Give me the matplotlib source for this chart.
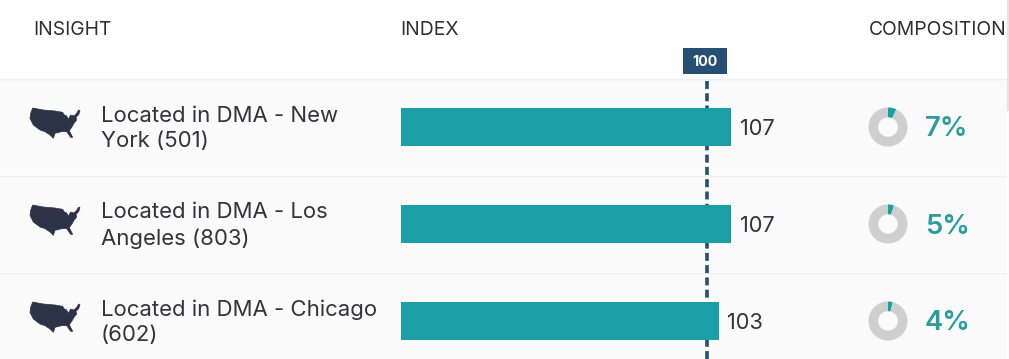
import matplotlib
matplotlib.use("Agg")
import matplotlib.pyplot as plt
from matplotlib.patches import Polygon, Rectangle

W, H = 1009, 359
headers = ["INSIGHT", "INDEX", "COMPOSITION"]
insights = ["Located in DMA - New\nYork (501)", "Located in DMA - Los\nAngeles (803)", "Located in DMA - Chicago\n(602)"]
index_values = [107, 107, 103]
composition = [7, 5, 4]
reference = 100

FONT = "Inter"
TEAL = "#1a9fa6"
NAVY = "#264f73"
DARK = "#333338"
MAP = "#2c3347"
usa = [(98,84),(130,90),(165,93),(188,97),(192,104),(200,108),(205,118),(212,105),(222,108),
       (230,100),(236,90),(240,92),(236,104),(228,112),(230,120),(222,130),(215,142),(208,152),
       (218,172),(212,172),(200,155),(185,155),(165,160),(160,175),(150,165),(135,155),(120,150),
       (100,135),(90,115),(92,100)]

fig = plt.figure(figsize=(W/100, H/100), dpi=100, facecolor="white")
ov = fig.add_axes([0, 0, 1, 1], zorder=1)
ov.set_xlim(0, W); ov.set_ylim(H, 0); ov.axis("off")

row_h = 97
row_top = 78.5
for i in range(len(insights)):
    top = row_top + i*row_h
    ov.add_patch(Rectangle((0, top), W-2, row_h-1, fc="#fafafa", ec="none", zorder=0))
    ov.plot([0, W-2], [top, top], color="#f0f0f0", lw=1, zorder=1)
ov.plot([1008, 1008], [0, 110], color="#e4e4e4", lw=1.5, zorder=1)

for x, t in zip([33, 400, 869], headers):
    ov.text(x, 30, t, fontsize=13.9, family=FONT, color="#2f2f33", va="center", ha="left")

ov.plot([707, 707], [81, H], color=NAVY, lw=2.6, dashes=(2.2, 1.2), zorder=2)
ov.add_patch(Rectangle((683, 48), 44, 26, fc=NAVY, ec="none", zorder=3))
ov.text(705, 62, str(reference), fontsize=10.3, family=FONT, weight="bold", color="white",
        ha="center", va="center", zorder=4)

ax = fig.add_axes([401/W, 0, 400/W, 1], zorder=2)
ax.patch.set_alpha(0); ax.axis("off")
ax.set_xlim(0, 400/3.085); ax.set_ylim(H, 0)
centers = [127 + i*row_h for i in range(3)]
ax.barh(centers, index_values, height=38, color=TEAL, zorder=3)

for i, (name, v, c) in enumerate(zip(insights, index_values, composition)):
    dy = i*row_h
    ov.add_patch(Polygon([(x/3, 80 + y/3 + dy) for x, y in usa], closed=True, fc=MAP, ec=MAP, lw=0.5, zorder=3))
    ov.text(101, 128.5 + dy, name, fontsize=15.95, family=FONT, color=DARK, va="center", ha="left", linespacing=1.34, zorder=3)
    ax.annotate(str(v), (v, centers[i] + 2), xytext=(8.5, 0), textcoords="offset pixels",
                fontsize=15.7, family=FONT, color=DARK, va="center", ha="left", zorder=4)
    cx = 888; cy = 127 + dy; r = 19.5
    pa = fig.add_axes([(cx-r)/W, 1-(cy+r)/H, 2*r/W, 2*r/H], zorder=3)
    pa.pie([c, 100-c], colors=[TEAL, "#cfcfcf"], startangle=90, counterclock=False, radius=1,
           wedgeprops=dict(width=0.5, linewidth=0))
    pa.set_xlim(-1, 1); pa.set_ylim(-1, 1)
    ov.text(925, 129.5 + dy, f"{c}%", fontsize=19.8, family=FONT, weight="semibold", color="#2a9d9d", va="center", ha="left", zorder=3)

fig.savefig("out.png", dpi=100, facecolor="white")
